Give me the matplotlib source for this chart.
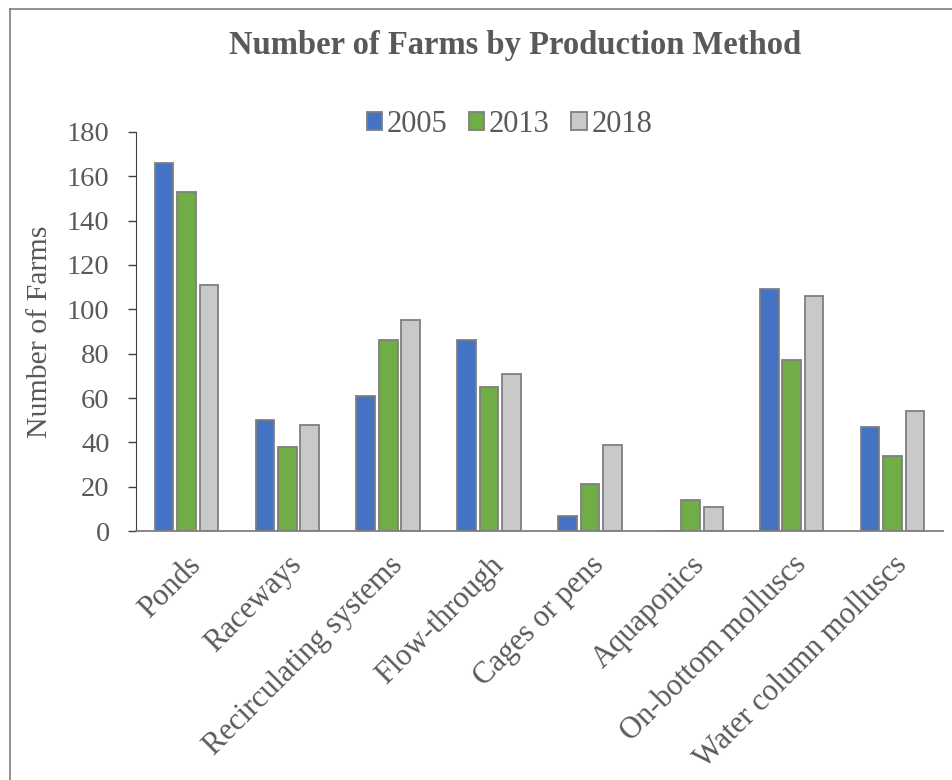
import matplotlib
matplotlib.use('Agg')
import matplotlib.pyplot as plt
from matplotlib.lines import Line2D
import numpy as np

# data
methods = ['Ponds', 'Raceways', 'Recirculating systems', 'Flow-through',
           'Cages or pens', 'Aquaponics', 'On-bottom molluscs', 'Water column molluscs']
years = ['2005', '2013', '2018']
farms_2005 = [166, 50, 61, 86, 7, 0, 109, 47]
farms_2013 = [153, 38, 86, 65, 21, 14, 77, 34]
farms_2018 = [111, 48, 95, 71, 39, 11, 106, 54]
colors = ['#4472C4', '#70AD47', '#C9C9C9']
yticks = [0, 20, 40, 60, 80, 100, 120, 140, 160, 180]

text_col = '#595959'
plt.rcParams['font.family'] = ['Liberation Serif', 'DejaVu Serif']

fig = plt.figure(figsize=(9.52, 7.8), dpi=100)
ax = fig.add_axes([0.1429, 0.3192, 0.8476, 0.5116])

x = np.arange(len(methods))
width = 0.185
offsets = [-0.222, 0, 0.222]
for vals, off, col, lab in zip([farms_2005, farms_2013, farms_2018], offsets, colors, years):
    ax.bar(x + off, vals, width, color=col, edgecolor='#7F7F7F', linewidth=1.3, label=lab)

ax.set_xlim(-0.5, len(methods) - 0.5)
ax.set_ylim(0, 180)
ax.set_yticks(yticks)
ax.set_xticks(x)
ax.set_xticklabels(methods, rotation=45, ha='right', rotation_mode='anchor',
                   fontsize=22, color=text_col)
ax.tick_params(axis='x', length=0, pad=14)
ax.tick_params(axis='y', labelsize=20.5, labelcolor=text_col, length=6, width=1,
               color='#404040', pad=13)
for s in ['top', 'right']:
    ax.spines[s].set_visible(False)
ax.spines['left'].set_color('#404040')
ax.spines['bottom'].set_color('#7F7F7F')
ax.spines['bottom'].set_linewidth(1.3)

ax.set_ylabel('Number of Farms', fontsize=21.5, color=text_col, labelpad=10)

fig.text(0.541, 0.942, 'Number of Farms by Production Method', ha='center', va='center',
         fontsize=23.5, fontweight='bold', color=text_col)

leg = ax.legend(loc='lower center', bbox_to_anchor=(0.463, 0.945), ncol=3, frameon=False,
                fontsize=22, handlelength=0.5, handleheight=0.5, handletextpad=0.15,
                columnspacing=0.7, borderpad=0)
for t in leg.get_texts():
    t.set_color(text_col)

# outer chart frame (cropped at right and bottom in the reference)
fig.add_artist(Line2D([0.0105, 0.0105], [0, 0.9885], transform=fig.transFigure,
                      color='#7F7F7F', linewidth=1.2))
fig.add_artist(Line2D([0.0105, 1], [0.9885, 0.9885], transform=fig.transFigure,
                      color='#7F7F7F', linewidth=1.2))

fig.savefig('out.png', dpi=100, facecolor='white')
